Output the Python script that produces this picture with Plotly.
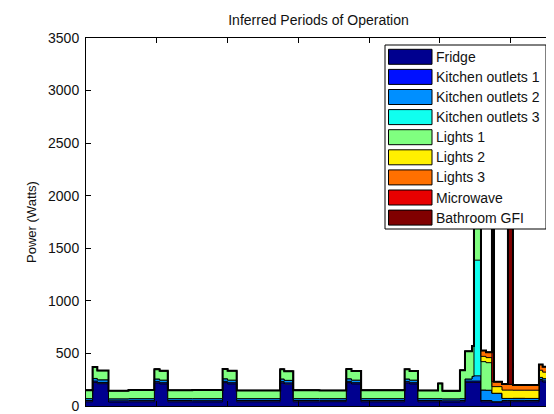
import plotly.graph_objects as go

# ---------------- data ----------------
# breakpoints (time, arbitrary units shown on x axis); each row holds until the next breakpoint
t = [0.000, 0.093, 0.160, 0.318, 0.600, 0.966, 1.040, 1.155, 1.500, 1.929,
     2.000, 2.128, 2.743, 2.800, 2.928, 3.300, 3.677, 3.750, 3.886, 4.500,
     4.570, 4.689, 4.972, 5.034, 5.282, 5.353, 5.452, 5.480, 5.579, 5.650,
     5.734, 5.763, 5.876, 5.960, 6.031, 6.200, 6.398, 6.450, 6.568]

fridge = [40, 225, 212, 38, 40, 220, 210, 40, 39, 222,
          210, 40, 220, 208, 40, 41, 222, 210, 40, 220,
          210, 40, 40, 38, 40, 225, 225, 225, 40, 40,
          35, 35, 40, 40, 41, 40, 240, 228, 228]
kitchen1 = [12, 12, 12, 12, 13, 12, 12, 12, 12, 12,
            12, 12, 12, 12, 12, 12, 12, 12, 12, 12,
            12, 12, 12, 12, 12, 12, 12, 12, 12, 12,
            6, 6, 12, 12, 12, 12, 12, 12, 12]
kitchen2 = [18, 25, 25, 18, 17, 25, 24, 18, 19, 25,
            24, 18, 25, 24, 18, 17, 25, 24, 18, 25,
            24, 18, 18, 18, 18, 20, 45, 50, 100, 98,
            80, 80, 20, 20, 20, 20, 20, 20, 20]
kitchen3 = [0] * 27 + [1100] + [0] * 11
lights1 = [80, 108, 88, 78, 81, 93, 89, 79, 82, 93,
           90, 78, 92, 86, 80, 78, 93, 88, 80, 92,
           87, 78, 145, 76, 270, 263, 288, 600, 270, 262,
           0, 0, 0, 0, 0, 0, 0, 0, 0]
lights2 = [0] * 27 + [30, 50, 48, 63, 63, 79, 79, 77, 78, 68, 62, 62]
lights3 = [0] * 28 + [55, 52, 47, 47, 59, 55, 50, 49, 55, 52, 52]
microwave = [0] * 30 + [1800] + [0] * 8
bathroom = [0] * 33 + [1750] + [0] * 5

names = ["Fridge", "Kitchen outlets 1", "Kitchen outlets 2", "Kitchen outlets 3",
         "Lights 1", "Lights 2", "Lights 3", "Microwave", "Bathroom GFI"]
series = [fridge, kitchen1, kitchen2, kitchen3, lights1, lights2, lights3, microwave, bathroom]
colors = ["#00008F", "#0010FF", "#008FFF", "#10FFEF", "#80FF80",
          "#FFF000", "#FF7000", "#E80000", "#800000"]

y_ticks = [0, 500, 1000, 1500, 2000, 2500, 3000, 3500]
x_ticks = [1, 2, 3, 4, 5, 6]

# ---------------- figure ----------------
OFF = 8                      # page body margin of the html page
W, H = 554 - OFF, 414 - OFF  # figure size
# plot area in page pixels: x 86..551, y 38..406
PX0, PX1, PY0, PY1 = 86, 551, 38, 406
L, T = PX0 - OFF, PY0 - OFF
R, B = W - (PX1 - OFF), H - (PY1 - OFF)
PW, PH = PX1 - PX0, PY1 - PY0

FONT = "Liberation Sans, Arial, Helvetica, sans-serif"

fig = go.Figure()
for i, (name, vals, col) in enumerate(zip(names, series, colors)):
    fig.add_trace(go.Scatter(
        x=t, y=vals, name=name, mode="lines",
        stackgroup="one",
        line=dict(color="black", width=2 if i == len(names) - 1 else 1, shape="hv"),
        fillcolor=col, showlegend=False, hoverinfo="skip"))


def px2paper_x(px):
    return (px - PX0) / PW


def px2paper_y(py):
    return (PY1 - py) / PH


shapes = []
annotations = []
# legend box
shapes.append(dict(type="rect", xref="paper", yref="paper",
                   x0=px2paper_x(385), x1=px2paper_x(546),
                   y0=px2paper_y(229), y1=px2paper_y(45),
                   fillcolor="white", line=dict(color="black", width=1), layer="above"))
row_top0, pitch, ph = 49.3, 20.1, 15
for i, (name, col) in enumerate(zip(names, colors)):
    top = row_top0 + i * pitch
    shapes.append(dict(type="rect", xref="paper", yref="paper",
                       x0=px2paper_x(388.5), x1=px2paper_x(432),
                       y0=px2paper_y(top + ph), y1=px2paper_y(top),
                       fillcolor=col, line=dict(color="black", width=1), layer="above"))
    annotations.append(dict(xref="paper", yref="paper",
                            x=px2paper_x(434), y=px2paper_y(top + ph / 2),
                            text=name, showarrow=False, xanchor="left", yanchor="middle",
                            font=dict(family=FONT, size=14, color="#111")))

fig.update_layout(
    width=W, height=H,
    margin=dict(l=L, r=R, t=T, b=B, autoexpand=False),
    paper_bgcolor="white", plot_bgcolor="white",
    title=dict(text="Inferred Periods of Operation", x=(PX0 + PW / 2 - OFF) / W, xanchor="center",
               y=1 - (20 - OFF) / H, yanchor="middle", yref="container",
               font=dict(family=FONT, size=14, color="#111")),
    xaxis=dict(range=[0, 6.568], tickvals=x_ticks, ticktext=[str(v) for v in x_ticks],
               ticks="inside", ticklen=5, tickcolor="black", mirror="ticks",
               showline=True, linecolor="black", linewidth=1, showgrid=False,
               zeroline=False, automargin=False,
               tickfont=dict(family=FONT, size=14, color="#111")),
    yaxis=dict(range=[0, 3500], tickvals=y_ticks, ticks="inside", ticklen=5,
               tickcolor="black", mirror="ticks", showline=True, linecolor="black",
               linewidth=1, showgrid=False, zeroline=False, automargin=False,
               ticklabelstandoff=3,
               title=dict(text="Power (Watts)", standoff=8,
                          font=dict(family=FONT, size=13, color="#111")),
               tickfont=dict(family=FONT, size=14, color="#111")),
    shapes=shapes, annotations=annotations, showlegend=False,
)

fig.write_html("out.html")
